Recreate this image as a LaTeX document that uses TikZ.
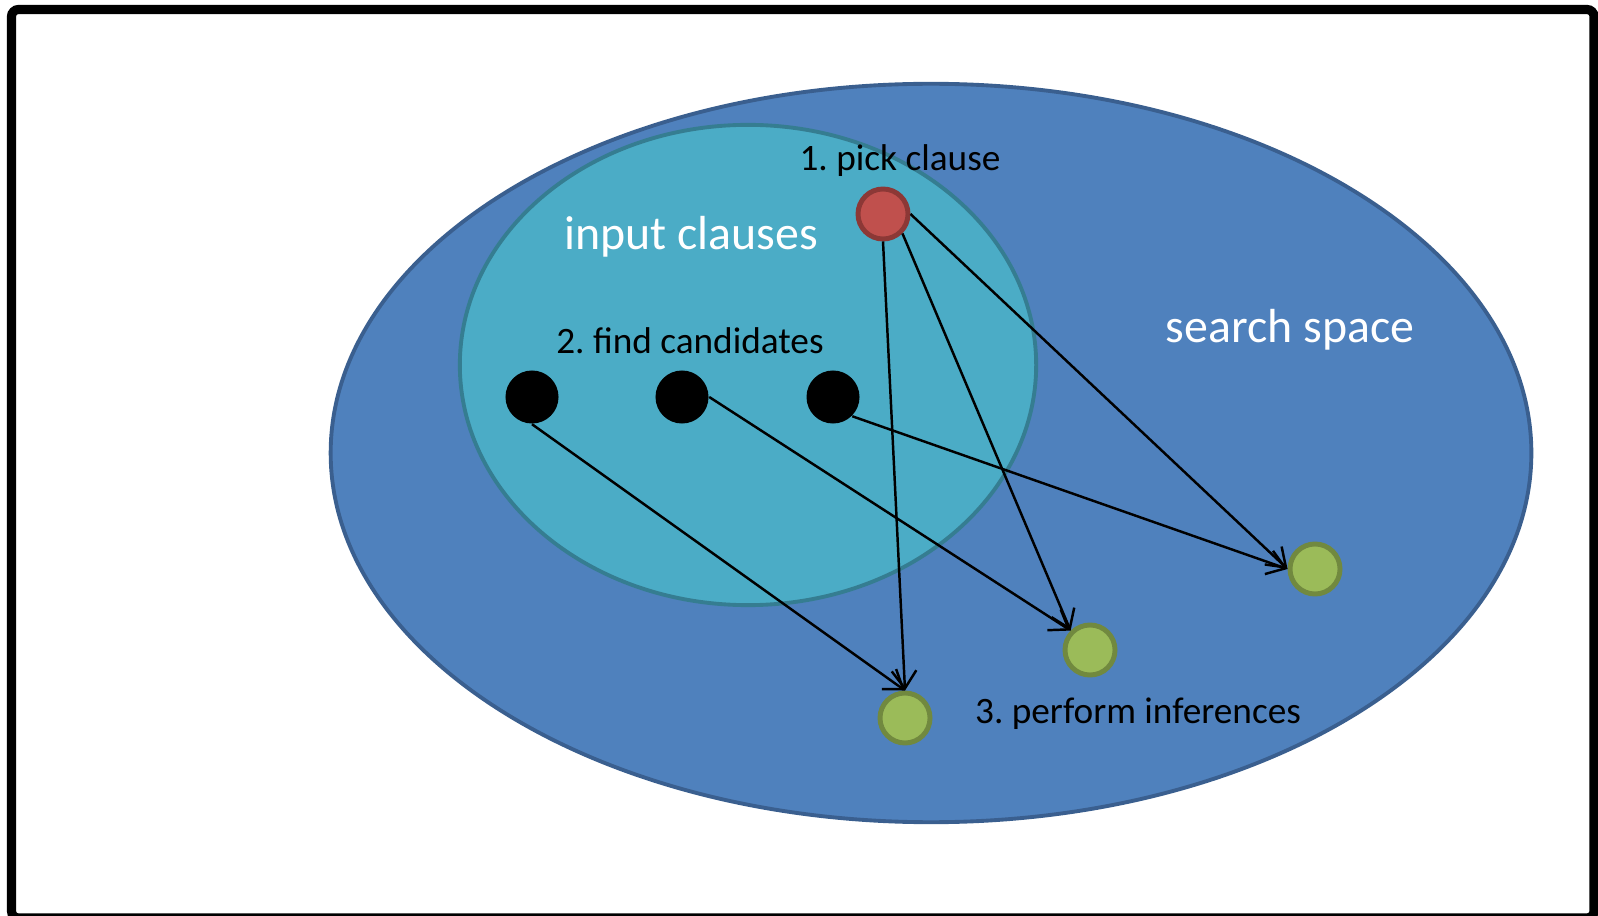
\documentclass[tikz,border=0pt]{standalone}
\usepackage{fontspec}
\setmainfont{Carlito}
\frenchspacing
\usepackage{xcolor}
\definecolor{spaceBlue}{HTML}{4F81BD}
\definecolor{spaceEdge}{HTML}{3A5F8F}
\definecolor{inputAqua}{HTML}{4BACC6}
\definecolor{inputEdge}{HTML}{357D91}
\definecolor{pickRed}{HTML}{C0504D}
\definecolor{pickEdge}{HTML}{8C3836}
\definecolor{infGreen}{HTML}{9BBB59}
\definecolor{infEdge}{HTML}{71893F}
\usetikzlibrary{arrows.meta}

\tikzset{
  candidate/.style={circle, fill=black, minimum size=0.53cm, inner sep=0pt},
  picked/.style={circle, fill=pickRed, draw=pickEdge, line width=1.4pt, minimum size=0.5cm, inner sep=0pt},
  inferred/.style={circle, fill=infGreen, draw=infEdge, line width=1.4pt, minimum size=0.5cm, inner sep=0pt},
  steplabel/.style={anchor=base, font=\fontsize{10.6}{12}\selectfont},
  setlabel/.style={anchor=base, text=white, font=\fontsize{13.6}{16}\selectfont},
  infer/.style={->, line width=0.7pt}
}

\begin{document}
\begin{tikzpicture}[x=0.01cm, y=-0.01cm, >={Straight Barb[length=5pt,width=7pt]}]
  \useasboundingbox (0,0) rectangle (1598,916);
  % ------- frame -------
  \draw[line width=2.6pt, rounded corners=2pt] (11.5,9.5) rectangle (1594,918);
  % ------- the two sets -------
  \draw[fill=spaceBlue, draw=spaceEdge, line width=1.1pt]
    (931,453) ellipse [x radius=6cm, y radius=3.69cm];
  \draw[fill=inputAqua, draw=inputEdge, line width=1.1pt]
    (748,365) ellipse [x radius=2.88cm, y radius=2.40cm];
  \node[setlabel] (input) at (691,250) {input clauses};
  \node[setlabel] (space) at (1290,343) {search space};
  % ------- clauses -------
  \node[picked] (pick) at (883,214) {};
  \node[candidate] (cand1) at (532,397) {};
  \node[candidate] (cand2) at (682,397) {};
  \node[candidate] (cand3) at (833,397) {};
  \node[inferred] (inf1) at (905,718) {};
  \node[inferred] (inf2) at (1090,650) {};
  \node[inferred] (inf3) at (1315,569) {};
  \node[steplabel] (pickText) at (900,171) {1. pick clause};
  \node[steplabel] (findText) at (690,354) {2. find candidates};
  \node[steplabel] (inferText) at (1138,723) {3. perform inferences};
  % ------- inferences -------
  \foreach \i/\from/\cfrom/\to in {1/south/south/north, 2/south east/east/north west, 3/east/south east/west} {
    \draw[infer] (pick.\from) -- (inf\i.\to);
    \draw[infer] (cand\i.\cfrom) -- (inf\i.\to);
  }
\end{tikzpicture}
\end{document}
